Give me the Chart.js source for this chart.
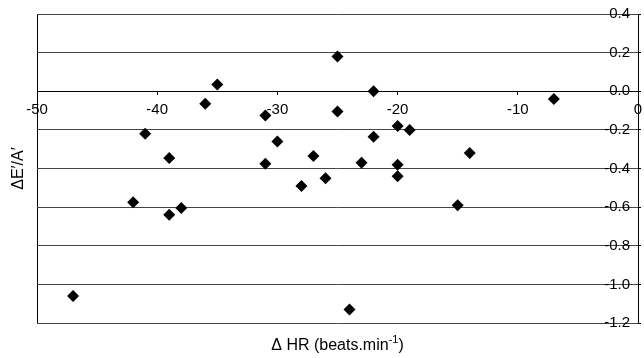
<!DOCTYPE html>
<html>
<head>
<meta charset="utf-8">
<title>ΔE'/A' vs ΔHR</title>
<script src="https://cdn.jsdelivr.net/npm/chart.js@4/dist/chart.umd.min.js"></script>
<style>
    body { margin: 0; background: #fff; }
    #wrap { width: 644px; height: 358px; position: relative; }
</style>
</head>
<body>
<div id="wrap"><canvas id="scatterChart"></canvas></div>
<script>
// Data
const deltaHR = [-47, -42, -41, -39, -39, -38, -36, -35, -31, -31, -30, -28, -27, -26,
    -25, -25, -24, -23, -22, -22, -20, -20, -20, -19, -15, -14, -7];
const deltaEA = [-1.06, -0.575, -0.22, -0.345, -0.64, -0.605, -0.065, 0.035, -0.125, -0.375, -0.26, -0.49, -0.335, -0.45,
    0.18, -0.105, -1.13, -0.37, 0.0, -0.235, -0.18, -0.38, -0.44, -0.2, -0.59, -0.32, -0.04];
const xTicks = { min: -50, max: 0, step: 10 };
const yTicks = { min: -1.2, max: 0.4, step: 0.2 };
const xTitle = ['\u0394 HR (beats.min', '-1', ')'];
const yTitle = '\u0394E\u2032/A\u2032';

const points = deltaHR.map((x, i) => ({ x: x, y: deltaEA[i] }));
const FONT = '"Liberation Sans", Arial, sans-serif';

// Axis titles (y title sits left of the plot, x title has a superscript)
const axisTitles = {
    id: 'axisTitles',
    afterDraw(chart) {
        const ctx = chart.ctx;
        const area = chart.chartArea;
        ctx.save();
        ctx.fillStyle = '#000';
        ctx.textBaseline = 'middle';

        // y title
        ctx.font = '16px ' + FONT;
        ctx.translate(19, (area.top + area.bottom) / 2);
        ctx.rotate(-Math.PI / 2);
        ctx.textAlign = 'center';
        ctx.fillText(yTitle, 0, 0);
        ctx.setTransform(1, 0, 0, 1, 0, 0);

        // x title with superscript
        const big = '16px ' + FONT;
        const small = '11px ' + FONT;
        ctx.font = big;
        const w1 = ctx.measureText(xTitle[0]).width;
        const w3 = ctx.measureText(xTitle[2]).width;
        ctx.font = small;
        const w2 = ctx.measureText(xTitle[1]).width;
        let x = (area.left + area.right) / 2 - (w1 + w2 + w3) / 2;
        const y = 346;
        ctx.textAlign = 'left';
        ctx.font = big;
        ctx.fillText(xTitle[0], x, y);
        x += w1;
        ctx.font = small;
        ctx.fillText(xTitle[1], x, y - 6);
        x += w2;
        ctx.font = big;
        ctx.fillText(xTitle[2], x, y);
        ctx.restore();
    }
};

const chartCtx = document.getElementById('scatterChart');
new Chart(chartCtx, {
    type: 'scatter',
    data: {
        datasets: [{
            data: points,
            pointStyle: 'rectRot',
            pointRadius: 6,
            pointHoverRadius: 6,
            backgroundColor: '#000',
            borderColor: '#000',
            borderWidth: 0
        }]
    },
    options: {
        responsive: true,
        maintainAspectRatio: false,
        animation: false,
        layout: { padding: { left: 37, top: 14, right: 0, bottom: 35 } },
        plugins: {
            legend: { display: false },
            tooltip: { enabled: false }
        },
        scales: {
            x: {
                type: 'linear',
                position: { y: 0 },
                min: xTicks.min,
                max: xTicks.max,
                afterFit: (scale) => { scale.paddingRight = 0; },
                ticks: {
                    stepSize: xTicks.step,
                    color: '#000',
                    font: { family: FONT, size: 15 },
                    padding: 7
                },
                grid: {
                    color: (c) => (c.tick && c.tick.value === xTicks.min ? '#000' : 'rgba(0,0,0,0)'),
                    tickColor: '#000',
                    tickLength: 3
                },
                border: { display: true, color: '#000' }
            },
            y: {
                type: 'linear',
                position: 'right',
                min: yTicks.min,
                max: yTicks.max,
                // axis sits almost on the right edge, labels are drawn inside the plot
                afterFit: (scale) => { scale.width = 2.5; },
                ticks: {
                    stepSize: yTicks.step,
                    mirror: true,
                    padding: -8,
                    color: '#000',
                    font: { family: FONT, size: 15 },
                    callback: (v) => Number(v).toFixed(1)
                },
                grid: {
                    color: '#444',
                    tickColor: '#000',
                    tickLength: 3
                },
                border: { display: true, color: '#000' }
            }
        }
    },
    plugins: [axisTitles]
});
</script>
</body>
</html>
